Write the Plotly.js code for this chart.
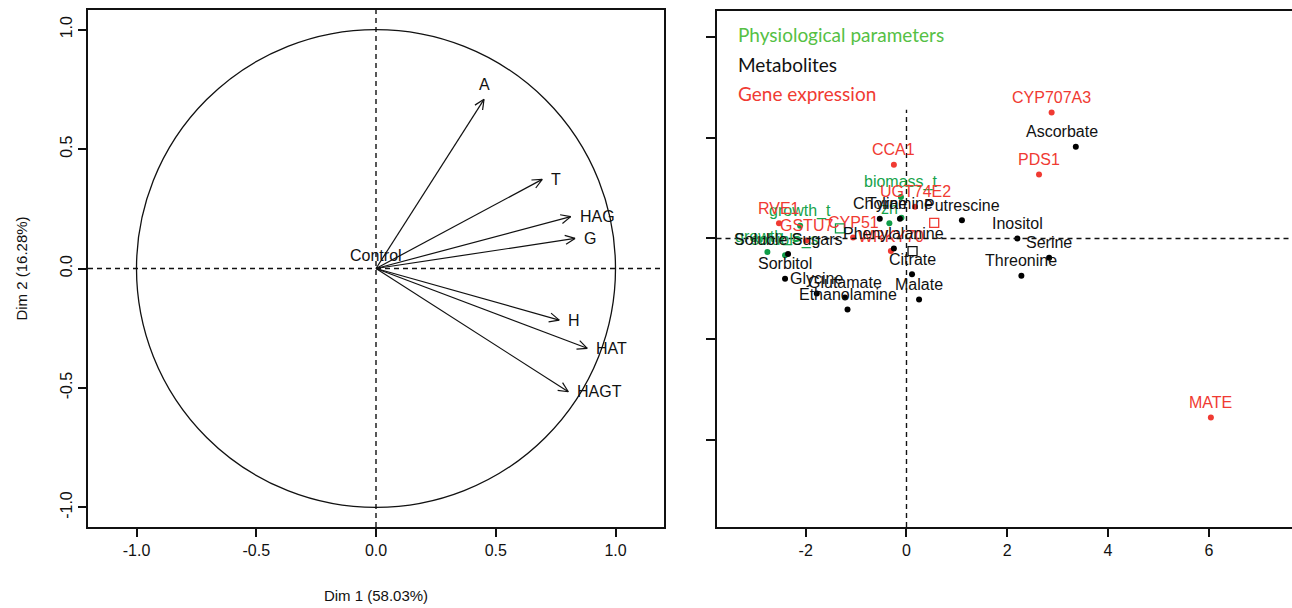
<!DOCTYPE html>
<html><head><meta charset="utf-8">
<script src="https://cdn.plot.ly/plotly-3.0.1.min.js"></script>
<style>html,body{margin:0;padding:0;background:#fff}#chart{width:1292px;height:608px}</style>
</head><body><div id="chart"></div>
<script>
// ---------- Left panel: variables factor map ----------
const varNames = ['A', 'T', 'HAG', 'G', 'H', 'HAT', 'HAGT'];
const varDim1  = [0.451, 0.694, 0.813, 0.831, 0.765, 0.882, 0.803];
const varDim2  = [0.708, 0.373, 0.217, 0.126, -0.216, -0.334, -0.516];
const varLabelSide = ['top', 'right', 'right', 'right', 'right', 'right', 'right'];
const suppNames = ['Control'];
const suppDim1  = [0];
const suppDim2  = [0];
const leftTickVals = [-1, -0.5, 0, 0.5, 1];
const leftTickText = ['-1.0', '-0.5', '0.0', '0.5', '1.0'];

// ---------- Right panel: individuals ----------
const physioNames = ['biomass_t', 'growth_t', 'zh', '', 'growth_s', 'soluble_s'];
const physioDim1  = [-0.11, -2.11, -0.34, -0.10, -2.76, -2.41];
const physioDim2  = [0.82, 0.25, 0.30, 0.41, -0.27, -0.33];

const metabNames = ['Ascorbate', 'Putrescine', 'Inositol', 'Serine', 'Threonine', 'Malate', 'Citrate',
  'Phenylalanine', 'Ethanolamine', 'Glutamate', 'Glycine', 'Sorbitol', 'Soluble Sugars', 'Choline', 'Tyramine'];
const metabDim1 = [3.36, 1.10, 2.20, 2.83, 2.28, 0.25, 0.11, -0.25, -1.17, -1.22, -1.78, -2.41, -2.35, -0.53, -0.13];
const metabDim2 = [1.82, 0.36, 0.00, -0.38, -0.74, -1.21, -0.71, -0.20, -1.41, -1.17, -1.09, -0.80, -0.31, 0.39, 0.39];

const geneNames = ['CYP707A3', 'PDS1', 'MATE', 'CCA1', 'RVE1', 'GSTU7', 'CYP51', 'UGT74E2', 'WRKY70'];
const geneDim1  = [2.88, 2.63, 6.04, -0.25, -2.53, -1.99, -1.06, 0.17, -0.31];
const geneDim2  = [2.50, 1.27, -3.55, 1.46, 0.30, -0.04, 0.02, 0.63, -0.25];

const centroidDim1 = [-1.32, 0.12, 0.55];   // physio, metabolites, genes
const centroidDim2 = [0.20, -0.25, 0.31];

const legendItems = ['Physiological parameters', 'Metabolites', 'Gene expression'];
const rightXTicks = [-2, 0, 2, 4, 6];
const rightYTicks = [-4, -2, 0, 2, 4];

// ---------- styling ----------
const FONT = 'Liberation Sans, Arial, sans-serif';
const GREEN = '#16a34a';
const GREEN_DOT = '#0f9d48';
const RED = '#f03a32';
const LEG_GREEN = '#55c044';
const W = 1292, H = 608;
const px = v => v / W, py = v => 1 - v / H;

const traces = [];
const annotations = [];
const shapes = [];

// arrows
const ax = [], ay = [];
const headLen = 0.045, headAng = 25 * Math.PI / 180;
for (let i = 0; i < varNames.length; i++) {
  const x = varDim1[i], y = varDim2[i];
  ax.push(0, x, null); ay.push(0, y, null);
  const th = Math.atan2(y, x);
  for (const s of [1, -1]) {
    ax.push(x - headLen * Math.cos(th + s * headAng), x, null);
    ay.push(y - headLen * Math.sin(th + s * headAng), y, null);
  }
  const side = varLabelSide[i];
  annotations.push({
    x: x, y: y, xref: 'x', yref: 'y', text: varNames[i], showarrow: false,
    xanchor: side === 'right' ? 'left' : 'center', yanchor: 'middle',
    xshift: side === 'right' ? 7 : 0, yshift: side === 'top' ? 15 : 0,
    font: {family: FONT, size: 16, color: '#111'}
  });
}
traces.push({x: ax, y: ay, xaxis: 'x', yaxis: 'y', mode: 'lines', type: 'scatter',
  line: {color: '#111', width: 1.2}, hoverinfo: 'skip', showlegend: false});
for (let i = 0; i < suppNames.length; i++) {
  annotations.push({x: suppDim1[i], y: suppDim2[i], xref: 'x', yref: 'y', text: suppNames[i],
    showarrow: false, yshift: 13, font: {family: FONT, size: 16, color: '#111'}});
}
shapes.push({type: 'circle', xref: 'x', yref: 'y', x0: -1, x1: 1, y0: -1, y1: 1,
  line: {color: '#111', width: 1.3}});
shapes.push({type: 'line', xref: 'x domain', yref: 'y', x0: 0, x1: 1, y0: 0, y1: 0,
  line: {color: '#111', width: 1.4, dash: '5px,4px'}});
shapes.push({type: 'line', xref: 'x', yref: 'y domain', x0: 0, x1: 0, y0: 0, y1: 1,
  line: {color: '#111', width: 1.4, dash: '5px,4px'}});

// right panel points
function addGroup(names, xs, ys, dotColor, textColor) {
  traces.push({x: xs, y: ys, xaxis: 'x2', yaxis: 'y2', mode: 'markers', type: 'scatter',
    marker: {color: dotColor, size: 6}, hoverinfo: 'text', text: names, showlegend: false});
  for (let i = 0; i < names.length; i++) {
    if (!names[i]) continue;
    annotations.push({x: xs[i], y: ys[i], xref: 'x2', yref: 'y2', text: names[i], showarrow: false,
      yshift: 15, xshift: names[i] === 'Ascorbate' ? -14 : 0,
      font: {family: FONT, size: 16, color: textColor}});
  }
}
addGroup(physioNames, physioDim1, physioDim2, GREEN_DOT, GREEN);
addGroup(geneNames, geneDim1, geneDim2, RED, RED);
addGroup(metabNames, metabDim1, metabDim2, '#000', '#111');
traces.push({x: centroidDim1, y: centroidDim2, xaxis: 'x2', yaxis: 'y2', mode: 'markers', type: 'scatter',
  marker: {symbol: 'square-open', size: 9, color: [GREEN_DOT, '#111', RED], line: {width: 1.3}},
  hoverinfo: 'skip', showlegend: false});

shapes.push({type: 'line', xref: 'x2 domain', yref: 'y2', x0: 0, x1: 1, y0: 0, y1: 0,
  line: {color: '#111', width: 1.4, dash: '5px,4px'}});
shapes.push({type: 'line', xref: 'x2', yref: 'y2', x0: 0, x1: 0, y0: -5.72, y1: 2.55,
  line: {color: '#111', width: 1.4, dash: '5px,4px'}});

const legColors = [LEG_GREEN, '#111', RED];
for (let i = 0; i < legendItems.length; i++) {
  annotations.push({xref: 'paper', yref: 'paper', x: px(736), y: py(35 + 29 * i), xanchor: 'left',
    yanchor: 'middle', text: legendItems[i], showarrow: false,
    font: {family: 'Lato, Open Sans, sans-serif', size: 19, color: legColors[i]}});
}

const axisCommon = {showgrid: false, zeroline: false, showline: true, linecolor: '#111', linewidth: 1.6,
  ticks: 'outside', ticklen: 8, tickwidth: 1.5, tickcolor: '#111', fixedrange: true,
  tickfont: {family: FONT, size: 16, color: '#111'}};

const layout = {
  width: W, height: H, margin: {l: 0, r: 0, t: 0, b: 0}, paper_bgcolor: '#fff', plot_bgcolor: '#fff',
  showlegend: false, hovermode: 'closest',
  xaxis: Object.assign({}, axisCommon, {domain: [px(88), px(664)], range: [-1.2025, 1.2025],
    tickvals: leftTickVals, ticktext: leftTickText, mirror: true,
    title: {text: 'Dim 1 (58.03%)', font: {family: FONT, size: 15, color: '#111'}, standoff: 32}}),
  yaxis: Object.assign({}, axisCommon, {domain: [1 - 527 / H, 1 - 10 / H], range: [-1.082, 1.082],
    tickvals: leftTickVals, ticktext: leftTickText, mirror: true, tickangle: -90,
    title: {text: 'Dim 2 (16.28%)', font: {family: FONT, size: 15, color: '#111'}, standoff: 27}}),
  xaxis2: Object.assign({}, axisCommon, {domain: [px(716.5), 1], range: [-3.77, 7.65],
    tickvals: rightXTicks, ticktext: rightXTicks.map(String), mirror: true, anchor: 'y2'}),
  yaxis2: Object.assign({}, axisCommon, {domain: [1 - 527 / H, 1 - 11 / H], range: [-5.72, 4.51],
    tickvals: rightYTicks, showticklabels: false, ticklen: 9, mirror: false, anchor: 'x2'}),
  annotations: annotations, shapes: shapes
};

Plotly.newPlot('chart', traces, layout, {displayModeBar: false});
</script></body></html>
